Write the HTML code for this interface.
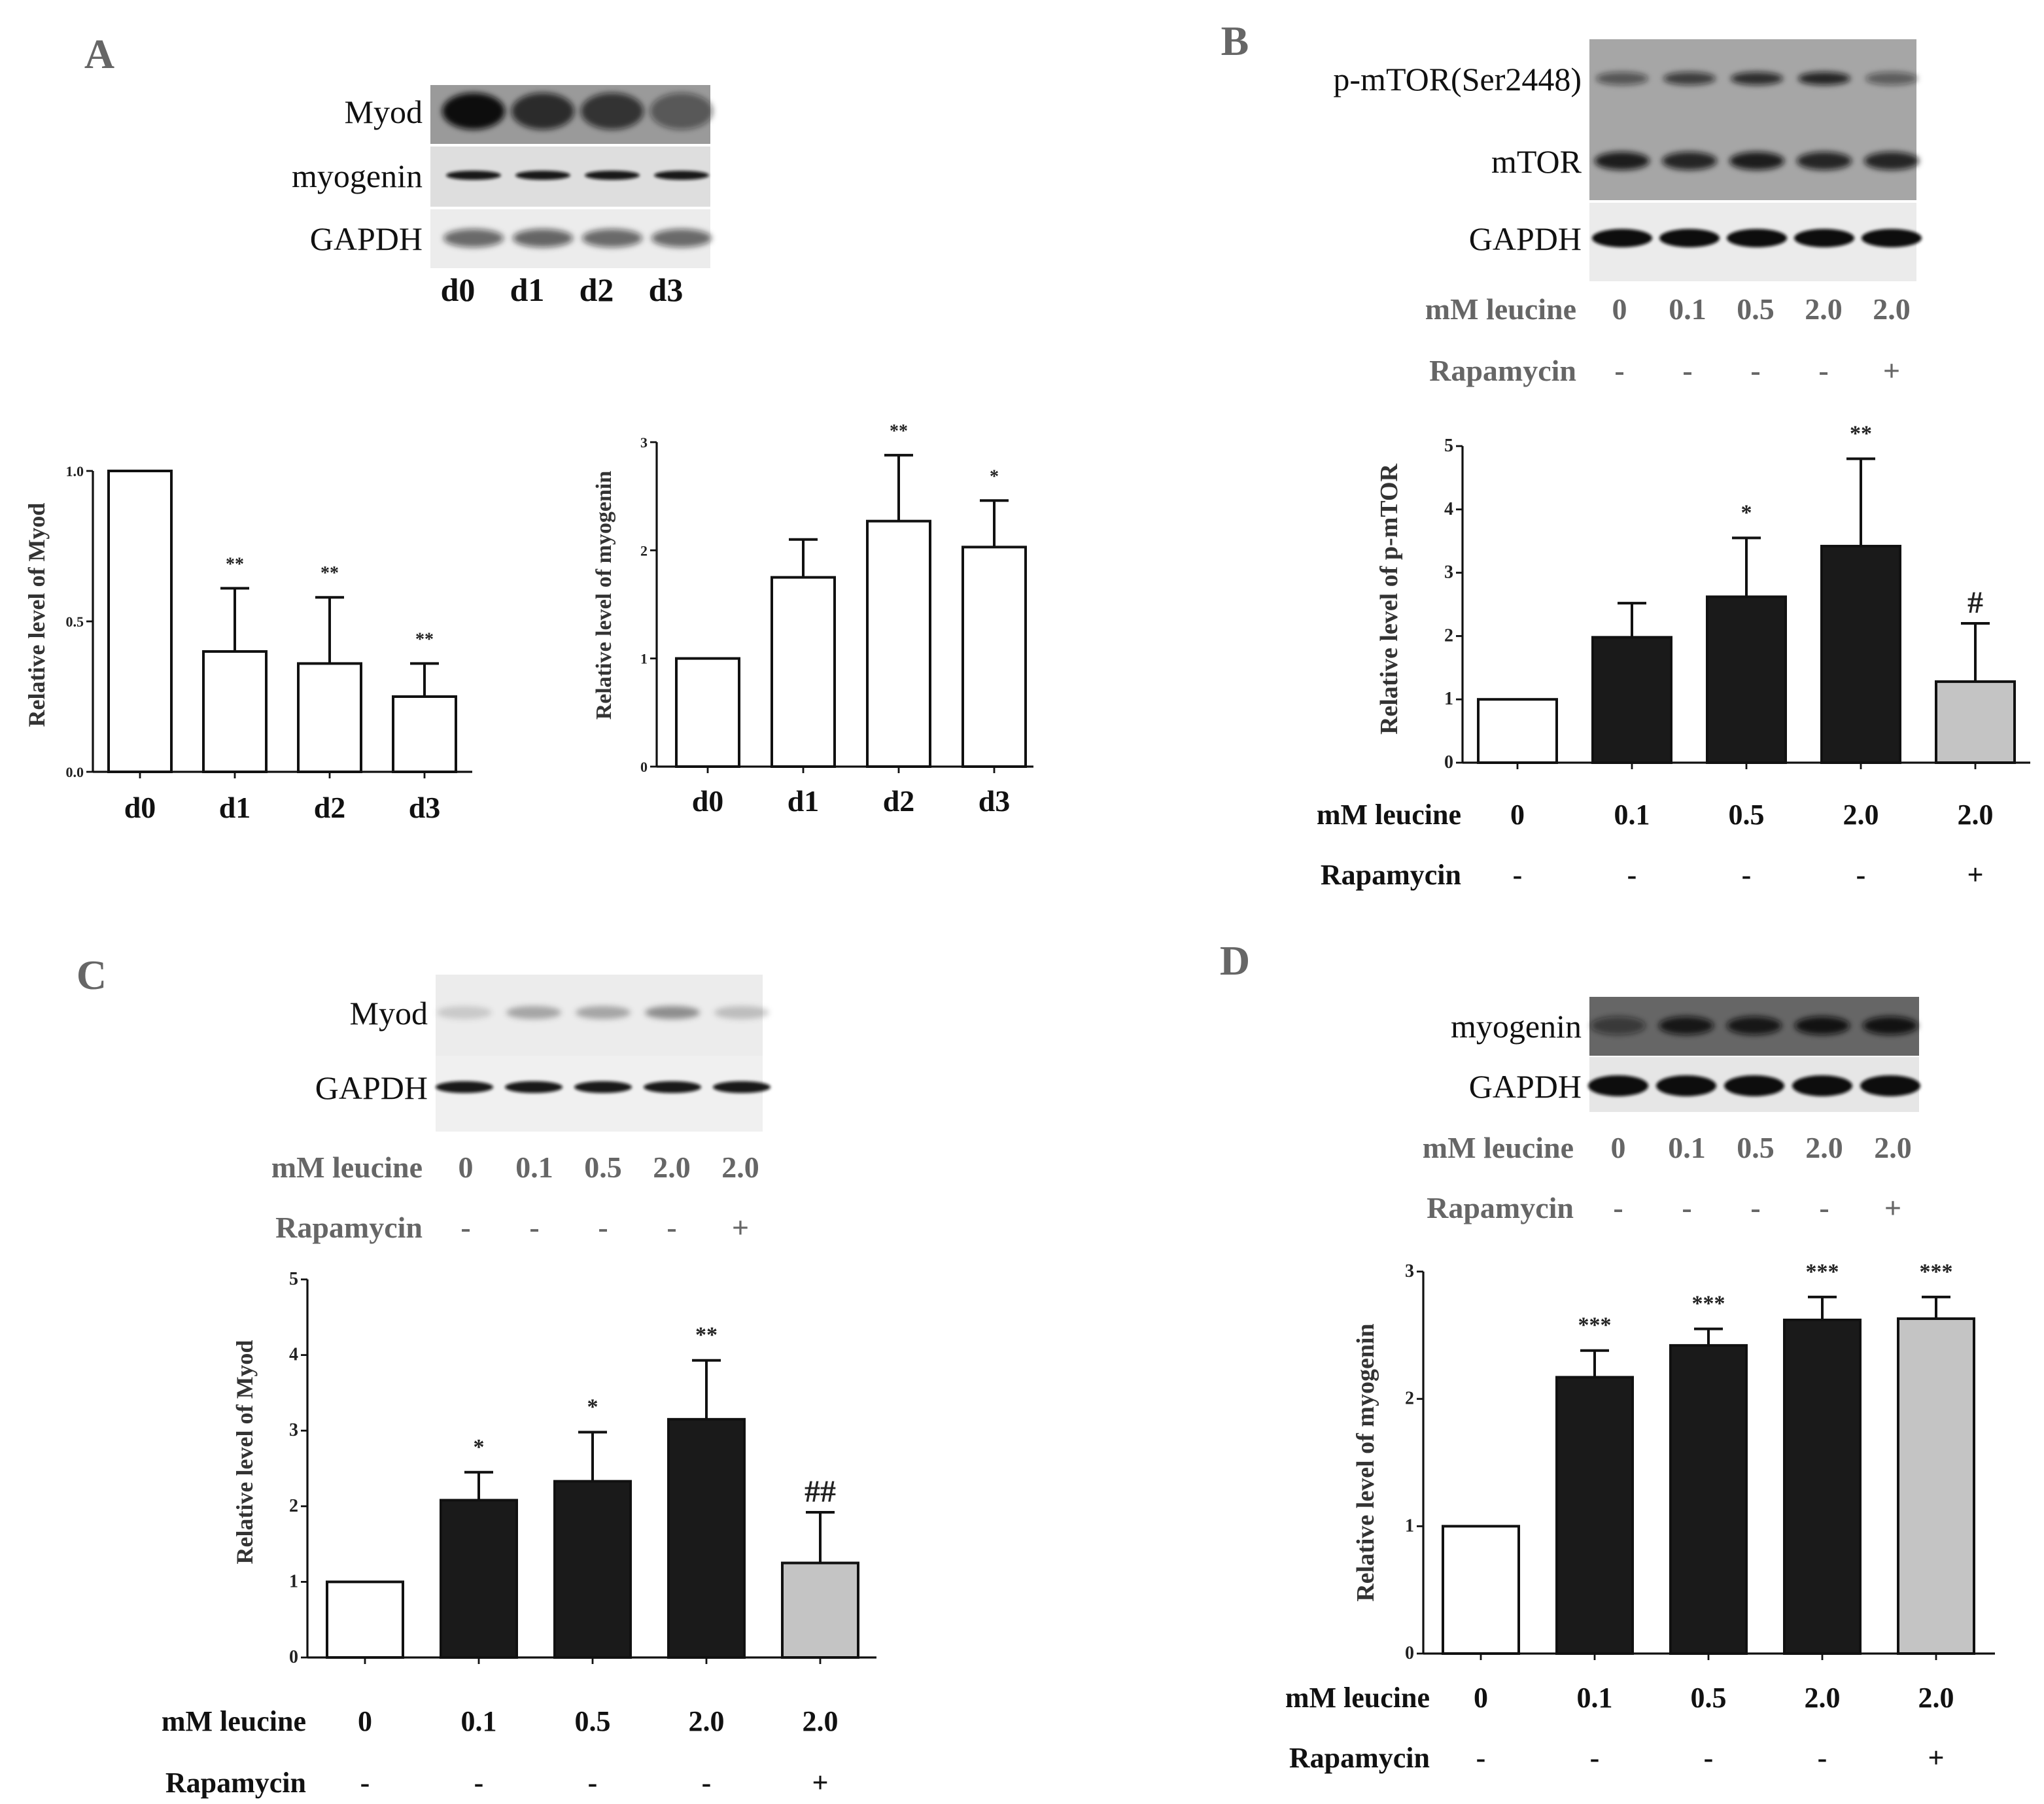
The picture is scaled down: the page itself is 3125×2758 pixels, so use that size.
<!DOCTYPE html>
<html><head><meta charset="utf-8">
<style>
html,body{margin:0;padding:0;background:#fff;}
svg{display:block;}
text{font-family:"Liberation Serif",serif;}
</style></head>
<body>
<svg id="fig" width="3125" height="2758" viewBox="0 0 1562.5 1379" xmlns="http://www.w3.org/2000/svg">
<defs>
<filter id="blur1" x="-30%" y="-100%" width="160%" height="300%"><feGaussianBlur stdDeviation="2.2"/></filter>
<filter id="blur2" x="-30%" y="-100%" width="160%" height="300%"><feGaussianBlur stdDeviation="1.2"/></filter>
</defs>
<g id="root"></g>
</svg>
<script>
// ---------- chart data ----------
const aCats = ["d0","d1","d2","d3"];
const aMyodVals = [1.0, 0.40, 0.36, 0.25];
const aMyodErr = [null, 0.61, 0.58, 0.36];
const aMyodMarks = ["", "**", "**", "**"];
const aMyodTicks = ["0.0","0.5","1.0"];
const aMyogVals = [1.0, 1.75, 2.27, 2.03];
const aMyogErr = [null, 2.10, 2.88, 2.46];
const aMyogMarks = ["", "", "**", "*"];
const aMyogTicks = ["0","1","2","3"];
const leuCats = ["0","0.1","0.5","2.0","2.0"];
const rapCats = ["-","-","-","-","+"];
const bVals = [1.0, 1.98, 2.62, 3.42, 1.28];
const bErr = [null, 2.52, 3.55, 4.80, 2.20];
const bMarks = ["", "", "*", "**", "#"];
const cVals = [1.0, 2.08, 2.33, 3.15, 1.25];
const cErr = [null, 2.45, 2.98, 3.93, 1.92];
const cMarks = ["", "*", "*", "**", "##"];
const fiveTicks = ["0","1","2","3","4","5"];
const dVals = [1.0, 2.17, 2.42, 2.62, 2.63];
const dErr = [null, 2.38, 2.55, 2.80, 2.80];
const dMarks = ["", "***", "***", "***", "***"];
const dTicks = ["0","1","2","3"];
const fills = ["#fff","#1a1a1a","#1a1a1a","#1a1a1a","#c4c4c4"];

const NS="http://www.w3.org/2000/svg";
const root=document.getElementById('root');
function mk(tag,attrs,parent,txt){const e=document.createElementNS(NS,tag);for(const k in attrs)e.setAttribute(k,attrs[k]);if(txt!==undefined)e.textContent=txt;(parent||root).appendChild(e);return e;}

function chart(o){
  const g=mk('g',{});
  
  
  const yS=v=>o.y0-(v/o.max)*(o.y0-o.yTop);
  const xS=i=>o.x0+o.first+i*o.step;
  const ya=mk('line',{x1:o.ax,y1:yS(o.max),x2:o.ax,y2:o.y0,stroke:'#111','stroke-width':1.6},g);
  
  
  const xa=mk('line',{x1:o.ax,y1:o.y0,x2:o.xEnd,y2:o.y0,stroke:'#111','stroke-width':1.6},g);
  
  
  o.ticks.forEach(t=>{
    const v=parseFloat(t),y=yS(v);
    mk('line',{x1:o.ax-5,y1:y,x2:o.ax,y2:y,stroke:'#111','stroke-width':1.4},g);
    const tl=mk('text',{x:o.ax-7,y:y+4,'font-size':o.tickFs,'font-weight':'bold','text-anchor':'end',fill:'#222'},g,t);
    
    
  });
  const yt=mk('text',{x:0,y:0,'font-size':o.ylabFs,'font-weight':'bold','text-anchor':'middle',fill:'#333',transform:`translate(${o.ylabX},${o.ylabY||(yS(o.max)+o.y0)/2}) rotate(-90)`},g,o.ylab);
  
  
  o.vals.forEach((v,i)=>{
    const cx=xS(i),w=o.bw;
    mk('line',{x1:cx,y1:o.y0,x2:cx,y2:o.y0+5,stroke:'#111','stroke-width':1.4},g);
    if(o.err[i]!=null){
      const e=mk('line',{x1:cx,y1:yS(v),x2:cx,y2:yS(o.err[i]),stroke:'#111','stroke-width':2},g);
      
      
      mk('line',{x1:cx-11,y1:yS(o.err[i]),x2:cx+11,y2:yS(o.err[i]),stroke:'#111','stroke-width':2},g);
    }
    const b=mk('rect',{x:cx-w/2,y:yS(v),width:w,height:o.y0-yS(v),fill:o.fills[i],stroke:'#111','stroke-width':2},g);
    
    
    if(o.marks[i]){
      const top=o.err[i]!=null?yS(o.err[i]):yS(v);
      const isHash=o.marks[i].indexOf('#')>=0;
      const m=mk('text',{x:cx,y:top-(isHash?8:14),'font-size':isHash?24:(o.starFs||17),'font-weight':'bold','text-anchor':'middle',fill:'#222'},g,o.marks[i]);
      
      
    }
    const c=mk('text',{x:cx,y:o.catY,'font-size':o.catFs,'font-weight':'bold','text-anchor':'middle',fill:'#111'},g,o.cats[i]);
    
    
    if(o.rap){
      const r=mk('text',{x:cx,y:o.rapY,'font-size':o.catFs,'font-weight':'bold','text-anchor':'middle',fill:'#111'},g,o.rap[i]);
      
      
    }
  });
  if(o.rap){
    const l1=mk('text',{x:o.rowLabX,y:o.catY,'font-size':o.catFs,'font-weight':'bold','text-anchor':'end',fill:'#111'},g,'mM leucine');
    
    
    const l2=mk('text',{x:o.rowLabX,y:o.rapY,'font-size':o.catFs,'font-weight':'bold','text-anchor':'end',fill:'#111'},g,'Rapamycin');
    
    
  }
}

function letter(t,x,y){const e=mk('text',{x:x,y:y,'font-size':32,'font-weight':'bold','text-anchor':'middle',fill:'#666'},root,t);
  
  }

function blot(o){
  const g=mk('g',{});
  
  
  o.rows.forEach(r=>{
    mk('rect',{x:o.x,y:r.y,width:o.w,height:r.h,fill:r.bg},g);
    r.dens.forEach((d,i)=>{
      const cx=o.x+o.lane0+i*o.lstep;
      mk('ellipse',{cx:cx,cy:r.y+r.cy,rx:r.rx,ry:r.ry,fill:`rgba(15,15,15,${d})`,filter:r.sharp?'url(#blur2)':'url(#blur1)'},g);
    });
    const l=mk('text',{x:o.x-6,y:r.y+r.cy+9,'font-size':o.fs,'text-anchor':'end',fill:'#111'},g,r.label);
    
    
  });
}

function blotAxis(x0,step,y1,y2,lx,fs){
  leuCats.forEach((c,i)=>{
    const t=mk('text',{x:x0+i*step,y:y1,'font-size':fs,'font-weight':'bold','text-anchor':'middle',fill:'#666'},root,c);
    
    
    const r=mk('text',{x:x0+i*step,y:y2,'font-size':fs,'font-weight':'bold','text-anchor':'middle',fill:'#666'},root,rapCats[i]);
    
    
  });
  const a=mk('text',{x:lx,y:y1,'font-size':fs,'font-weight':'bold','text-anchor':'end',fill:'#666'},root,'mM leucine');
  
  
  const b=mk('text',{x:lx,y:y2,'font-size':fs,'font-weight':'bold','text-anchor':'end',fill:'#666'},root,'Rapamycin');
  
  
}

letter('A',76,52); letter('B',944,42); letter('C',70,756); letter('D',944,745);

blot({name:'blot-a',x:329,w:214,lane0:33,lstep:53,fs:25,rows:[
  {label:'Myod',y:65,h:45,bg:'#9a9a9a',cy:20,rx:24,ry:14,dens:[1,0.8,0.75,0.5]},
  {label:'myogenin',y:112,h:46,bg:'#dedede',cy:22,rx:21,ry:3.5,dens:[0.95,0.95,0.95,0.95],sharp:true},
  {label:'GAPDH',y:160,h:45,bg:'#ececec',cy:22,rx:23,ry:7,dens:[0.6,0.62,0.6,0.6]}
]});
['d0','d1','d2','d3'].forEach((d,i)=>{const t=mk('text',{x:350+i*53,y:230,'font-size':25,'font-weight':'bold','text-anchor':'middle',fill:'#111'},root,d);
  
  });

chart({name:'chart-a-myod',ax:71,x0:71,first:36,step:72.5,bw:48,xEnd:361,y0:590,yTop:360,max:1.0,
  ticks:aMyodTicks,vals:aMyodVals,err:aMyodErr,marks:aMyodMarks,cats:aCats,fills:['#fff','#fff','#fff','#fff'],
  tickFs:11,ylab:'Relative level of Myod',ylabX:34,ylabY:470,ylabFs:18,catY:625,catFs:23,starFs:14});
chart({name:'chart-a-myogenin',ax:502,x0:502,first:39,step:73,bw:48,xEnd:790,y0:586,yTop:338,max:3,
  ticks:aMyogTicks,vals:aMyogVals,err:aMyogErr,marks:aMyogMarks,cats:aCats,fills:['#fff','#fff','#fff','#fff'],
  tickFs:11,ylab:'Relative level of myogenin',ylabX:467,ylabY:455,ylabFs:17,catY:620,catFs:23,starFs:14});

blot({name:'blot-b',x:1215,w:250,lane0:25,lstep:51.5,fs:25,rows:[
  {label:'p-mTOR(Ser2448)',y:30,h:62,bg:'#a6a6a6',cy:30,rx:20,ry:5,dens:[0.55,0.7,0.8,0.85,0.5]},
  {label:'mTOR',y:92,h:61,bg:'#a6a6a6',cy:31,rx:21,ry:7,dens:[0.9,0.85,0.9,0.85,0.85]},
  {label:'GAPDH',y:155,h:60,bg:'#ebebeb',cy:27,rx:23,ry:7,dens:[1,1,1,1,1],sharp:true}
]});
blotAxis(1238,52,244,291,1205,23);
chart({name:'chart-b-pmtor',ax:1118,x0:1118,first:42,step:87.5,bw:60,xEnd:1552,y0:583,yTop:341,max:5,
  ticks:fiveTicks,vals:bVals,err:bErr,marks:bMarks,cats:leuCats,rap:rapCats,fills:fills,
  tickFs:14,ylab:'Relative level of p-mTOR',ylabX:1068,ylabY:458,ylabFs:19,catY:630,rapY:676,catFs:22,rowLabX:1117,starFs:17});

blot({name:'blot-c',x:333,w:250,lane0:22,lstep:53,fs:25,rows:[
  {label:'Myod',y:745,h:62,bg:'#ececec',cy:29,rx:21,ry:5,dens:[0.15,0.3,0.3,0.4,0.2]},
  {label:'GAPDH',y:807,h:58,bg:'#f0f0f0',cy:24,rx:22,ry:4.5,dens:[0.95,0.95,0.95,0.95,0.95],sharp:true}
]});
blotAxis(356,52.5,900,946,323,23);
chart({name:'chart-c-myod',ax:235,x0:235,first:44,step:87,bw:58,xEnd:670,y0:1267,yTop:978,max:5,
  ticks:fiveTicks,vals:cVals,err:cErr,marks:cMarks,cats:leuCats,rap:rapCats,fills:fills,
  tickFs:14,ylab:'Relative level of Myod',ylabX:193,ylabY:1110,ylabFs:18,catY:1323,rapY:1370,catFs:22,rowLabX:234,starFs:17});

blot({name:'blot-d',x:1215,w:252,lane0:22,lstep:52,fs:25,rows:[
  {label:'myogenin',y:762,h:45,bg:'#666',cy:22,rx:21,ry:7,dens:[0.55,0.9,0.9,0.95,0.95]},
  {label:'GAPDH',y:808,h:42,bg:'#e6e6e6',cy:22,rx:23,ry:8,dens:[1,1,1,1,1],sharp:true}
]});
blotAxis(1237,52.5,885,931,1203,23);
chart({name:'chart-d-myogenin',ax:1088,x0:1088,first:44,step:87,bw:58,xEnd:1525,y0:1264,yTop:972,max:3,
  ticks:dTicks,vals:dVals,err:dErr,marks:dMarks,cats:leuCats,rap:rapCats,fills:fills,
  tickFs:14,ylab:'Relative level of myogenin',ylabX:1050,ylabY:1118,ylabFs:19,catY:1305,rapY:1351,catFs:22,rowLabX:1093,starFs:17});
</script>
</body></html>
